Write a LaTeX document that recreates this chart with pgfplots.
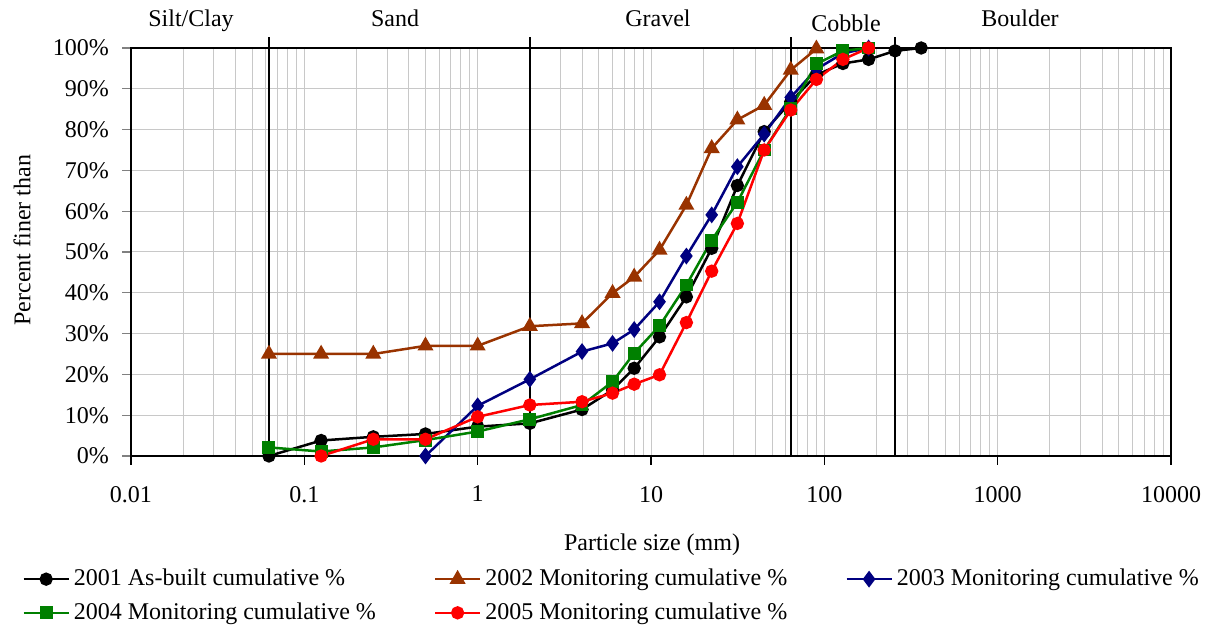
\documentclass[border=0pt]{standalone}
\usepackage{pgfplots}
\pgfplotsset{compat=1.18}
\usepackage{fontspec}
\setmainfont{Liberation Serif}
\definecolor{cBrown}{HTML}{993300}
\definecolor{cNavy}{HTML}{000080}
\definecolor{cGreen}{HTML}{008000}
\definecolor{cRed}{HTML}{FF0000}
\definecolor{cGrid}{HTML}{C8C8C8}
\begin{document}
\begin{tikzpicture}[font=\fontsize{12}{14}\selectfont]
\path[use as bounding box] (0,0) rectangle (606.5pt,315pt);
\begin{axis}[
  at={(65.5pt,87pt)}, anchor=south west,
  width=520pt, height=204pt, scale only axis,
  xmode=log, xmin=0.01, xmax=10000, ymin=0, ymax=100,
  xtick={0.01,0.1,1,10,100,1000,10000},
  xticklabels={0.01,0.1,1,10,100,1000,10000},
  ytick={0,10,...,100},
  yticklabel={\pgfmathprintnumber{\tick}\%},
  /pgf/number format/assume math mode=true,
  tick label style={font=\fontsize{12}{14}\selectfont},
  xticklabel style={yshift=-7pt},
  yticklabel style={xshift=-3pt},
  grid=both,
  major grid style={cGrid, line width=0.5pt},
  minor grid style={cGrid, line width=0.5pt},
  minor tick length=0pt,
  tick align=outside,
  xtick pos=bottom, ytick pos=left,
  x tick style={black, line width=0.6pt},
  y tick style={gray, line width=0.6pt},
  major tick length=4.5pt,
  axis line style={black, line width=1pt},
  clip=false,
  xlabel={Particle size (mm)},
  ylabel={Percent finer than},
  every axis x label/.style={at={(axis description cs:0.501,-0.218)}, anchor=center},
  every axis y label/.style={at={(axis description cs:-0.1048,0.529)}, anchor=center, rotate=90},
  legend columns=3,
  legend cell align=left,
  legend image code/.code={\draw[mark repeat=2,mark phase=2,#1] plot coordinates {(0pt,0pt) (11.25pt,0pt) (22.5pt,0pt)};},
  legend style={at={(axis description cs:-0.1048,-0.267)}, anchor=north west, draw=none, fill=none, inner sep=0pt,
    font=\fontsize{12}{14}\selectfont, row sep=3pt,
    /tikz/every odd column/.append style={column sep=0pt},
    /tikz/every even column/.append style={column sep=27pt}},
  every axis plot/.append style={line width=1.25pt},
]
\addplot[black, mark=*, mark size=2.7pt, mark options={solid}] coordinates {
(0.0625,0) (0.125,3.8) (0.25,4.7) (0.5,5.4) (1,7.2) (2,8.0) (4,11.4) (6,16.2) (8,21.5)
(11.2,29.2) (16,39.0) (22.4,50.9) (31.5,66.3) (45,79.5) (64,86.8) (90,93.4) (128,96.2)
(180,97.2) (256,99.3) (362,100)};
\addlegendentry{2001 As-built cumulative \%}
\addplot[cBrown, mark=triangle*, mark size=3.4pt, mark options={solid}] coordinates {
(0.0625,25) (0.125,25) (0.25,25) (0.5,27) (1,27) (2,31.8) (4,32.5) (6,39.9) (8,43.9)
(11.2,50.5) (16,61.5) (22.4,75.4) (31.5,82.4) (45,86.0) (64,94.6) (90,99.8)};
\addlegendentry{2002 Monitoring cumulative \%}
\addplot[cNavy, mark=diamond*, mark size=3.2pt, mark options={solid}] coordinates {
(0.5,0) (1,12.3) (2,18.8) (4,25.6) (6,27.6) (8,31.0) (11.2,37.8) (16,49.0) (22.4,59.1)
(31.5,70.9) (45,78.9) (64,87.9) (90,94.8) (128,98.7) (180,100)};
\addlegendentry{2003 Monitoring cumulative \%}
\addplot[cGreen, mark=square*, mark size=2.6pt, mark options={solid}] coordinates {
(0.0625,2.1) (0.125,1.1) (0.25,2.1) (0.5,3.9) (1,6.0) (2,9.0) (4,12.5) (6,18.2) (8,25.2)
(11.2,31.9) (16,41.9) (22.4,52.9) (31.5,62.2) (45,75.0) (64,85.2) (90,96.1) (128,99.3) (180,100)};
\addlegendentry{2004 Monitoring cumulative \%}
\addplot[cRed, mark=*, mark size=2.7pt, mark options={solid}] coordinates {
(0.125,0) (0.25,4.1) (0.5,4.1) (1,9.6) (2,12.5) (4,13.3) (6,15.4) (8,17.6)
(11.2,19.9) (16,32.7) (22.4,45.3) (31.5,57.0) (45,75.0) (64,84.8) (90,92.3) (128,97.2) (180,100)};
\addlegendentry{2005 Monitoring cumulative \%}
% class boundaries
\draw[black, line width=1pt] (axis cs:0.0625,0) -- (axis cs:0.0625,102.7);
\draw[black, line width=1pt] (axis cs:2,0) -- (axis cs:2,102.7);
\draw[black, line width=1pt] (axis cs:64,0) -- (axis cs:64,102.7);
\draw[black, line width=1pt] (axis cs:256,0) -- (axis cs:256,102.7);
\node[anchor=base] at (axis description cs:0.0577,1.0527) {Silt/Clay};
\node[anchor=base] at (axis description cs:0.2539,1.0527) {Sand};
\node[anchor=base] at (axis description cs:0.5067,1.0527) {Gravel};
\node[anchor=base] at (axis description cs:0.6875,1.040) {Cobble};
\node[anchor=base] at (axis description cs:0.8548,1.0527) {Boulder};
\end{axis}
\end{tikzpicture}
\end{document}
